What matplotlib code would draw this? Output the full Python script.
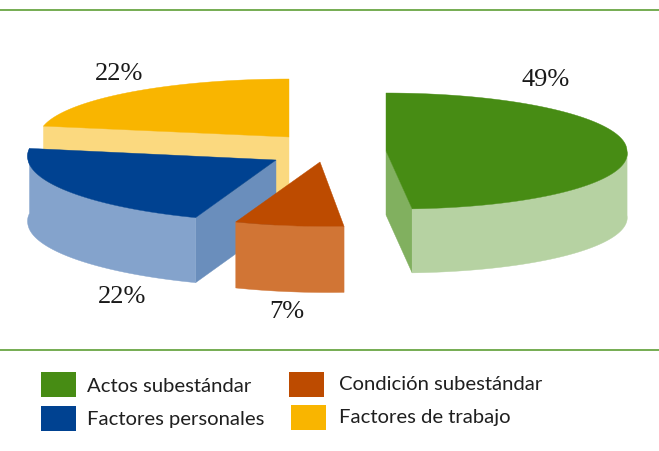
import numpy as np
import matplotlib
matplotlib.use("Agg")
import matplotlib.pyplot as plt
from matplotlib.patches import Polygon, Rectangle

# data (clockwise from 12 o'clock)
categories = ["Actos subestándar", "Condición subestándar", "Factores personales", "Factores de trabajo"]
values = [49, 7, 22, 22]
labels = ["49%", "7%", "22%", "22%"]

# styles and layout
top_colors = ["#478C14", "#BD4B00", "#004291", "#F9B500"]
side_colors = ["#B6D2A2", "#D17535", "#84A3CC", "#FBD97F"]
inner_colors = ["#81B05F", "#D17535", "#6A8EBC", "#FBD97F"]
centers = [(386, 151), (320, 162), (276, 160), (289, 137)]
radii = [(241, 58), (250, 64.5), (248, 62), (250, 58)]
depths = [64, 66, 65, 63]
shears = [0.19, 0.13, 0.19, 0.0]
upper_shears = [0.0, 0.0, 0.25, 0.0]
label_pos = [(546, 80), (287, 312), (122, 297), (119, 74)]
# which rim end carries the visible inner wall (None: no wall)
wall_end = [-1, None, 0, 0]
# draw back pieces first
order = [3, 2, 0, 1]

W, H = 659, 451
fig = plt.figure(figsize=(W / 100, H / 100), dpi=100)
ax = fig.add_axes([0, 0, 1, 1])
ax.set_xlim(0, W)
ax.set_ylim(H, 0)
ax.axis("off")


def rim_points(c, r, shear, upper, a0, a1):
    a = np.radians(np.linspace(a0, a1, 120))
    y = -np.cos(a) * r[1]
    x = np.sin(a) * r[0] + shear * np.maximum(y, 0) + upper * np.minimum(y, 0)
    return np.column_stack([c[0] + x, c[1] + y])


def wall(pts, d, color):
    lowered = pts + np.array([0, d])
    ax.add_patch(Polygon(np.vstack([pts, lowered[::-1]]), fc=color, ec=color, lw=0.3))


edges = np.cumsum([0] + values) / sum(values) * 360

for i in order:
    c = np.array(centers[i], float)
    d = depths[i]
    rim = rim_points(c, radii[i], shears[i], upper_shears[i], edges[i], edges[i + 1])
    if wall_end[i] is not None:
        wall(np.vstack([c, rim[wall_end[i]]]), d, inner_colors[i])
    # outer wall: only where the rim faces the viewer
    if i != 3:
        front = rim if i == 2 else rim[rim[:, 1] >= c[1]]
        wall(front, d, side_colors[i])
    ax.add_patch(Polygon(np.vstack([c, rim]), fc=top_colors[i], ec=top_colors[i], lw=0.3))

for t, (x, y) in zip(labels, label_pos):
    ax.text(x, y, t, ha="center", va="center", fontsize=19, family="Liberation Serif", color="#1a1a1a")

# rules
for y in (10, 350):
    ax.plot([0, W], [y, y], color="#5E9E35", lw=1.2, solid_capstyle="butt")

# legend
legend_pos = [(41, 372, 87, 386), (289, 372, 339, 384), (41, 406, 87, 420), (291, 405, 339, 418)]
for (bx, by, tx, ty), name, col in zip(legend_pos, categories, top_colors):
    ax.add_patch(Rectangle((bx, by), 35, 25, fc=col, ec="none"))
    ax.text(tx, ty, name, ha="left", va="center", fontsize=14.6, family="Lato", color="#1f1f1f")

fig.savefig("out.png", dpi=100)
